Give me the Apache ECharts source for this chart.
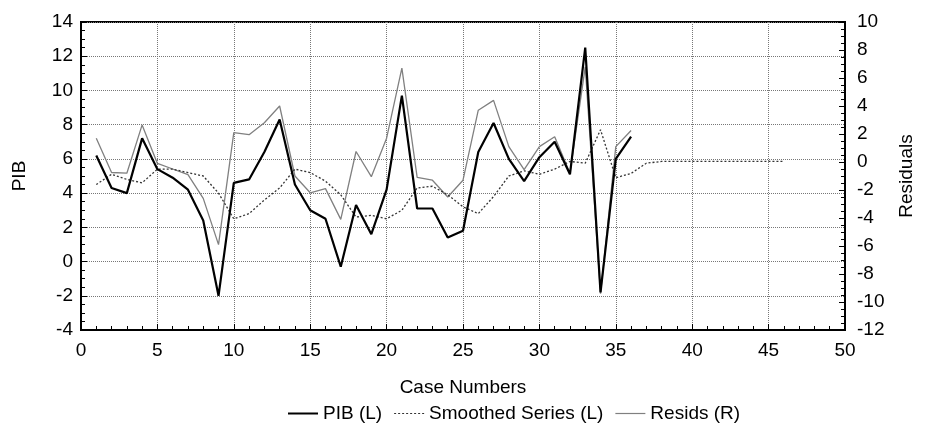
<!DOCTYPE html>
<html>
<head>
<meta charset="utf-8">
<script src="https://cdn.jsdelivr.net/npm/echarts@6/dist/echarts.min.js"></script>
<style>html,body{margin:0;padding:0;background:#fff;}#c{width:928px;height:428px;}</style>
</head>
<body>
<div id="c"></div>
<script>
// Case numbers (x values)
var casesPIB = [1,2,3,4,5,6,7,8,9,10,11,12,13,14,15,16,17,18,19,20,21,22,23,24,25,26,27,28,29,30,31,32,33,34,35,36];
var casesSmooth = [1,2,3,4,5,6,7,8,9,10,11,12,13,14,15,16,17,18,19,20,21,22,23,24,25,26,27,28,29,30,31,32,33,34,35,36,37,38,39,40,41,42,43,44,45,46];
// PIB (left axis)
var pib = [6.2,4.3,4.0,7.2,5.4,4.9,4.2,2.4,-2.0,4.6,4.8,6.4,8.3,4.5,3.0,2.5,-0.3,3.3,1.6,4.2,9.7,3.1,3.1,1.4,1.8,6.4,8.1,6.0,4.7,6.1,7.0,5.1,12.5,-1.8,6.0,7.3];
// Smoothed series (left axis)
var smoothed = [4.5,5.1,4.8,4.6,5.4,5.4,5.2,5.0,4.0,2.5,2.8,3.6,4.3,5.4,5.2,4.7,3.9,2.6,2.7,2.5,3.0,4.3,4.4,3.9,3.2,2.8,3.8,5.0,5.3,5.1,5.4,5.85,5.75,7.7,4.9,5.15,5.75,5.85,5.85,5.85,5.85,5.85,5.85,5.85,5.85,5.85];
// Residuals (right axis)
var resids = [1.7,-0.75,-0.8,2.65,-0.1,-0.5,-0.9,-2.6,-5.9,2.1,1.95,2.8,4.0,-1.0,-2.2,-1.9,-4.1,0.75,-1.05,1.7,6.7,-1.1,-1.3,-2.5,-1.3,3.7,4.4,1.1,-0.55,1.1,1.8,-0.8,6.8,-9.4,1.1,2.25];
// Axis ticks
var xTicks = {min:0, max:50, interval:5};
var yLeftTicks = {min:-4, max:14, interval:2};
var yRightTicks = {min:-12, max:10, interval:2};

function pairs(xs, ys){ return ys.map(function(v,i){ return [xs[i], v]; }); }

var FONT = '"Liberation Sans", Arial, Helvetica, sans-serif';
var FS = 19;
var chart = echarts.init(document.getElementById('c'), null, {renderer:'canvas'});
var labelStyle = {color:'#000', fontSize:FS, fontFamily:FONT};
var solidIcon = 'path://M0,0H30V2H0Z';
var thinIcon = 'path://M0,0.4H30V1.6H0Z';
var dotIcon = 'path://M0,0.4H2V1.6H0Z M4,0.4H6V1.6H4Z M8,0.4H10V1.6H8Z M12,0.4H14V1.6H12Z M16,0.4H18V1.6H16Z M20,0.4H22V1.6H20Z M24,0.4H26V1.6H24Z M28,0.4H30V1.6H28Z';
chart.setOption({
  animation:false,
  backgroundColor:'#fff',
  grid:{left:81, right:83, top:22, bottom:98, show:true, borderColor:'#000', borderWidth:2, backgroundColor:'transparent'},
  legend:{
    bottom:0, left:283, itemWidth:30, itemHeight:2, itemGap:12,
    textStyle:{color:'#000', fontSize:FS, fontFamily:FONT},
    data:[
      {name:'PIB (L)', icon:solidIcon},
      {name:'Smoothed Series (L)', icon:dotIcon},
      {name:'Resids (R)', icon:thinIcon}
    ]
  },
  xAxis:{
    type:'value', min:xTicks.min, max:xTicks.max, interval:xTicks.interval,
    name:'Case Numbers', nameLocation:'middle', nameGap:48,
    nameTextStyle:labelStyle,
    axisLine:{show:true, onZero:false, lineStyle:{color:'#000', width:2}},
    axisTick:{show:true, inside:true, length:6, lineStyle:{color:'#000'}},
    minorTick:{show:true, splitNumber:5, length:4, lineStyle:{color:'#000'}},
    axisLabel:Object.assign({margin:11}, labelStyle),
    splitLine:{show:true, lineStyle:{color:'#777', type:'dotted', width:1}}
  },
  yAxis:[{
    type:'value', min:yLeftTicks.min, max:yLeftTicks.max, interval:yLeftTicks.interval,
    name:'PIB', nameLocation:'middle', nameGap:52, nameRotate:90,
    nameTextStyle:labelStyle,
    axisLine:{show:true, onZero:false, lineStyle:{color:'#000', width:2}},
    axisTick:{show:true, inside:true, length:6, lineStyle:{color:'#000'}},
    minorTick:{show:true, splitNumber:4, length:4, lineStyle:{color:'#000'}},
    axisLabel:Object.assign({margin:8}, labelStyle),
    splitLine:{show:true, lineStyle:{color:'#777', type:'dotted', width:1}}
  },{
    type:'value', min:yRightTicks.min, max:yRightTicks.max, interval:yRightTicks.interval,
    position:'right',
    name:'Residuals', nameLocation:'middle', nameGap:52, nameRotate:90,
    nameTextStyle:labelStyle,
    axisLine:{show:true, onZero:false, lineStyle:{color:'#000', width:2}},
    axisTick:{show:true, inside:true, length:6, lineStyle:{color:'#000'}},
    minorTick:{show:true, splitNumber:4, length:4, lineStyle:{color:'#000'}},
    axisLabel:Object.assign({margin:12}, labelStyle),
    splitLine:{show:false}
  }],
  series:[{
    name:'PIB (L)', type:'line', yAxisIndex:0, symbol:'none',
    data:pairs(casesPIB, pib),
    lineStyle:{color:'#000', width:2.2}, itemStyle:{color:'#000'}, z:4
  },{
    name:'Smoothed Series (L)', type:'line', yAxisIndex:0, symbol:'none',
    data:pairs(casesSmooth, smoothed),
    lineStyle:{color:'#333', width:1.3, type:[2,2]}, itemStyle:{color:'#333'}, z:3
  },{
    name:'Resids (R)', type:'line', yAxisIndex:1, symbol:'none',
    data:pairs(casesPIB, resids),
    lineStyle:{color:'#808080', width:1.3}, itemStyle:{color:'#808080'}, z:2
  }]
});
</script>
</body>
</html>
